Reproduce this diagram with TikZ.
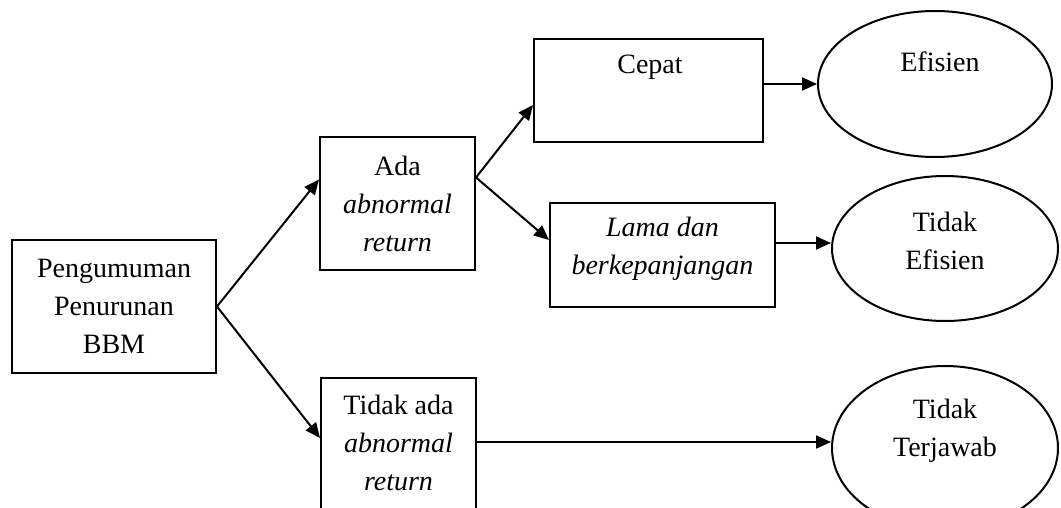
\documentclass[tikz,border=0pt]{standalone}
\usepackage{fontspec}
\setmainfont{Liberation Serif}
\usetikzlibrary{shapes.geometric,arrows.meta,calc}
\begin{document}
\begin{tikzpicture}[x=1pt,y=-1pt,
  every node/.style={font=\fontsize{28pt}{38pt}\selectfont, align=center},
  box/.style={draw, line width=2pt, rectangle, inner sep=0pt},
  oval/.style={draw, line width=2pt, ellipse, inner sep=0pt},
  arr/.style={line width=2pt, -{Triangle[length=15pt,width=13pt]}},
  lbl/.style={inner sep=0pt}]
\useasboundingbox (0,0) rectangle (1061,508);
\clip (0,0) rectangle (1061,508);
\fill[white] (0,0) rectangle (1061,508);
\node[box, minimum width=204pt, minimum height=133pt] (A) at (114,306.5) {Pengumuman\\Penurunan\\BBM};
\node[box, minimum width=155pt, minimum height=133pt] (B) at (397.5,203.5) {Ada\\\textit{abnormal}\\\textit{return}};
\node[box, minimum width=229pt, minimum height=103pt] (C) at (648.5,90.5) {};
\node[lbl] (Ct) at (650,67) {Cepat};
\node[box, minimum width=225pt, minimum height=104pt] (D) at (662.5,255) {};
\node[lbl] (Dt) at (662.5,249) {\textit{Lama dan}\\\textit{berkepanjangan}};
\node[box, minimum width=155pt, minimum height=140pt] (E) at (398.5,448) {};
\node[lbl] (Et) at (398.5,443) {Tidak ada\\\textit{abnormal}\\\textit{return}};
\node[oval, minimum width=234pt, minimum height=146pt] (Ef) at (935,84) {};
\node[lbl] (Eft) at (940,62) {Efisien};
\node[oval, minimum width=226pt, minimum height=145pt] (TE) at (945,248.5) {};
\node[lbl] (TEt) at (945,241) {Tidak\\Efisien};
\node[oval, minimum width=226pt, minimum height=164pt] (TT) at (945,448) {};
\node[lbl] (TTt) at (945,431) {Tidak\\Terjawab};
\coordinate (bi1) at ([yshift=24pt]B.west);
\coordinate (ei1) at ([yshift=10pt]E.west);
\coordinate (bo) at ([yshift=26pt]B.east);
\coordinate (ci) at ([yshift=-14.5pt]C.west);
\coordinate (di) at ([yshift=15pt]D.west);
\coordinate (co) at (C.east |- Ef.west);
\coordinate (do) at ([yshift=12pt]D.east);
\coordinate (eo) at ([yshift=6pt]E.east);
\draw[arr] (A.east) -- (bi1);
\draw[arr] (A.east) -- (ei1);
\draw[arr] (bo) -- (ci);
\draw[arr] (bo) -- (di);
\draw[arr] (co) -- (Ef.west);
\draw[arr] (do) -- (do -| TE.west);
\draw[arr] (eo) -- (eo -| TT.west);
\end{tikzpicture}
\end{document}
